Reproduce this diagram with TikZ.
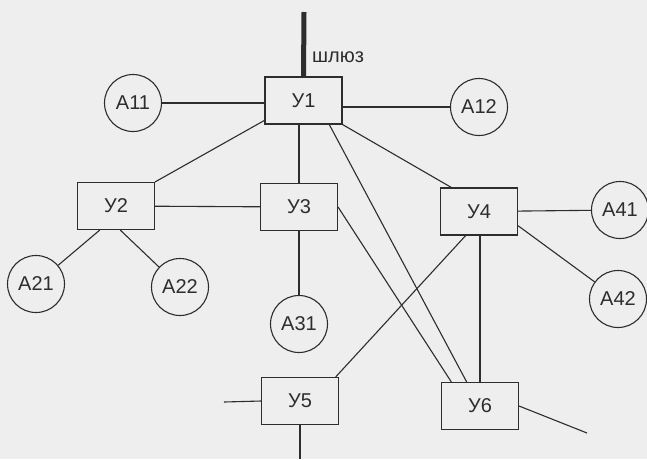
\documentclass[tikz,border=0pt]{standalone}
\usepackage{fontspec}
\setmainfont{Liberation Sans}
\definecolor{paper}{RGB}{238,238,238}
\definecolor{ink}{RGB}{45,45,45}
\begin{document}
\begin{tikzpicture}[x=1pt,y=-1pt,
  every node/.style={font=\fontsize{20}{22}\selectfont, text=ink},
  ubox/.style={draw=ink, line width=1.1pt, rectangle, minimum width=77pt, minimum height=47pt, inner sep=0pt},
  acirc/.style={draw=ink, line width=1.1pt, circle, minimum size=57pt, inner sep=0pt},
  link/.style={draw=ink, line width=1.1pt}]
\fill[paper] (0,0) rectangle (647,459);
\useasboundingbox (0,0) rectangle (647,459);
% switches
\node[ubox] (u1) at (303.5,100.5) {У1};
\node[ubox] (u2) at (116,206) {У2};
\node[ubox] (u3) at (299,207) {У3};
\node[ubox] (u4) at (479,211.5) {У4};
\node[ubox] (u5) at (300,401) {У5};
\node[ubox] (u6) at (480,406) {У6};
% stations
\node[acirc] (a11) at (133,103) {A11};
\node[acirc] (a12) at (479,107) {A12};
\node[acirc] (a21) at (36,284) {A21};
\node[acirc] (a22) at (180,287) {A22};
\node[acirc] (a31) at (299,324) {A31};
\node[acirc] (a41) at (620,210) {A41};
\node[acirc] (a42) at (618,299) {A42};
% gateway
\coordinate (gw) at (304,12);
\draw[ink, line width=5pt] (gw) -- (u1.north);
\node[anchor=west, inner sep=0pt] (lbl) at (312,57) {шлюз};
% free ends
\coordinate (u5l) at (224,402);
\coordinate (u5b) at (300,459);
\coordinate (u6r) at (587,433);
% links
\draw[link] (a11) -- (a11 -| u1.west);
\draw[link] (u1.east |- a12) -- (a12);
\draw[link] (u1.207) -- (u2.north east);
\draw[link] (u3.north) -- (u3.north |- u1.south);
\draw[link] (u1.south east) -- (u4.139);
\draw[link] (u1.-43) -- (u6.119);
\draw[link] (u2) -- (u3);
\draw[link] (u2.236) -- (a21);
\draw[link] (u2.280) -- (a22);
\draw[link] (u3) -- (a31);
\draw[link] (u3.east) -- (u6.140);
\draw[link] (u4) -- (a41);
\draw[link] (u4.-20) -- (a42);
\draw[link] (u4.241) -- (u5.34);
\draw[link] (u4.south -| u6.north) -- (u6.north);
\draw[link] (u5l) -- (u5.west);
\draw[link] (u5.south) -- (u5b);
\draw[link] (u6.east) -- (u6r);
\end{tikzpicture}
\end{document}
